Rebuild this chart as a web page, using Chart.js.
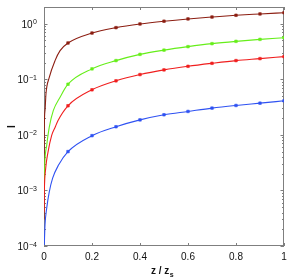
<!DOCTYPE html>
<html>
<head>
<meta charset="utf-8">
<title>I vs z / zs</title>
<script src="https://cdn.jsdelivr.net/npm/chart.js@4.4.1/dist/chart.umd.min.js"></script>
<style>
  html, body { margin: 0; padding: 0; background: #fff; }
  #wrap { width: 291px; height: 280px; }
</style>
</head>
<body>
<div id="wrap"><canvas id="chart" width="291" height="280"></canvas></div>
<script>
var markZ = [0.1, 0.2, 0.3, 0.4, 0.5, 0.6, 0.7, 0.8, 0.9, 1.0];
var brownMarks = [0.45, 0.68, 0.85, 0.99, 1.11, 1.22, 1.32, 1.42, 1.50, 1.58];
var greenMarks = [0.0815, 0.154, 0.217, 0.281, 0.335, 0.387, 0.438, 0.482, 0.523, 0.561];
var redMarks   = [0.0334, 0.0647, 0.0938, 0.1217, 0.1477, 0.1714, 0.194, 0.217, 0.2356, 0.256];
var blueMarks  = [0.0050, 0.00968, 0.0140, 0.0186, 0.0230, 0.0264, 0.0303, 0.0338, 0.0372, 0.0410];

// where each curve rises off the left axis, before the first marker
var brownStartZ = [0.0002, 0.0012, 0.0042, 0.0083, 0.022, 0.046, 0.067];
var brownStartI = [0.0003, 0.012, 0.0275, 0.0555, 0.108, 0.217, 0.328];
var greenStartZ = [0.0003, 0.0029, 0.0113, 0.022, 0.039, 0.067];
var greenStartI = [0.00094, 0.00284, 0.00648, 0.0138, 0.0275, 0.0477];
var redStartZ   = [0.0001, 0.00125, 0.0071, 0.0167, 0.032, 0.046, 0.058];
var redStartI   = [0.00041, 0.00093, 0.0025, 0.0049, 0.0098, 0.0136, 0.018];
var blueStartZ  = [0.00125, 0.0042, 0.0113, 0.022, 0.036, 0.06];
var blueStartI  = [0.000104, 0.000238, 0.00048, 0.00094, 0.00166, 0.00284];

var xTicks = [0, 0.2, 0.4, 0.6, 0.8, 1];
var xTickLabels = ['0', '0.2', '0.4', '0.6', '0.8', '1'];
var yDecades = [-4, -3, -2, -1, 0];
var yMin = 1e-4, yMax = 2;

var FONT = '"Liberation Sans", Arial, Helvetica, sans-serif';

function series(startZ, startI, marks, color) {
  var pts = [], rad = [];
  for (var i = 0; i < startZ.length; i++) {
    pts.push({x: startZ[i], y: startI[i]});
    rad.push(0);
  }
  for (var j = 0; j < markZ.length; j++) {
    pts.push({x: markZ[j], y: marks[j]});
    rad.push(1.8);
  }
  return {
    data: pts,
    showLine: true,
    borderColor: color,
    backgroundColor: color,
    borderWidth: 1.1,
    pointRadius: rad,
    pointStyle: 'rect',
    pointBorderWidth: 0.6,
    cubicInterpolationMode: 'monotone'
  };
}

var axesPlugin = {
  id: 'matlabAxes',
  beforeDatasetsDraw: function (chart) {
    var ctx = chart.ctx, a = chart.chartArea;
    var xs = chart.scales.x, ys = chart.scales.y;
    ctx.save();
    ctx.strokeStyle = '#7f7f7f';
    ctx.lineWidth = 1;
    ctx.strokeRect(a.left + 0.5, a.top + 0.5, a.right - a.left - 1, a.bottom - a.top - 1);
    ctx.beginPath();
    // x ticks, inward on bottom and top
    xTicks.forEach(function (t) {
      var px = Math.round(xs.getPixelForValue(t)) + 0.5;
      ctx.moveTo(px, a.bottom); ctx.lineTo(px, a.bottom - 3);
      ctx.moveTo(px, a.top); ctx.lineTo(px, a.top + 3);
    });
    // y major and minor ticks, inward on left and right
    for (var d = -4; d <= 0; d++) {
      for (var m = 1; m <= 9; m++) {
        var v = m * Math.pow(10, d);
        if (v < yMin || v > yMax) continue;
        var py = Math.round(ys.getPixelForValue(v)) + 0.5;
        var len = (m === 1) ? 3.5 : 2;
        ctx.moveTo(a.left, py); ctx.lineTo(a.left + len, py);
        ctx.moveTo(a.right, py); ctx.lineTo(a.right - len, py);
      }
    }
    ctx.stroke();
    ctx.restore();
  },
  afterDraw: function (chart) {
    var ctx = chart.ctx, a = chart.chartArea;
    var xs = chart.scales.x, ys = chart.scales.y;
    ctx.save();
    ctx.fillStyle = '#111';
    // x tick labels
    ctx.font = '10px ' + FONT;
    ctx.textAlign = 'center';
    ctx.textBaseline = 'alphabetic';
    xTicks.forEach(function (t, i) {
      ctx.fillText(xTickLabels[i], xs.getPixelForValue(t), a.bottom + 14);
    });
    // y tick labels: 10 with superscript exponent
    yDecades.forEach(function (d) {
      var py = ys.getPixelForValue(Math.pow(10, d));
      var sup = d < 0 ? '\u2212' + (-d) : String(d);
      ctx.font = '7px ' + FONT;
      var sw = ctx.measureText(sup).width;
      var right = a.left - 7;
      ctx.textAlign = 'left';
      ctx.fillText(sup, right - sw, py + 0.5);
      ctx.font = '10px ' + FONT;
      ctx.textAlign = 'right';
      ctx.fillText('10', right - sw - 0.5, py + 4);
    });
    // x title: z / z with subscript s
    ctx.font = 'bold 10px ' + FONT;
    var main = 'z / z';
    var mw = ctx.measureText(main).width;
    ctx.font = 'bold 7px ' + FONT;
    var subw = ctx.measureText('s').width;
    var x0 = (a.left + a.right) / 2 - 2 - (mw + subw) / 2;
    ctx.textAlign = 'left';
    ctx.font = 'bold 10px ' + FONT;
    ctx.fillText(main, x0, a.bottom + 28);
    ctx.font = 'bold 7px ' + FONT;
    ctx.fillText('s', x0 + mw + 0.5, a.bottom + 31);
    // y title
    ctx.translate(12.5, (a.top + a.bottom) / 2);
    ctx.rotate(-Math.PI / 2);
    ctx.font = 'bold 10px ' + FONT;
    ctx.textAlign = 'center';
    ctx.textBaseline = 'middle';
    ctx.fillText('I', 0, 0);
    ctx.restore();
  }
};

new Chart(document.getElementById('chart'), {
  type: 'scatter',
  data: {
    datasets: [
      series(blueStartZ, blueStartI, blueMarks, '#2f52f2'),
      series(redStartZ, redStartI, redMarks, '#f01e1e'),
      series(greenStartZ, greenStartI, greenMarks, '#66ee1a'),
      series(brownStartZ, brownStartI, brownMarks, '#8c1e12')
    ]
  },
  options: {
    responsive: false,
    animation: false,
    devicePixelRatio: 1,
    layout: { padding: { left: 44, right: 7, top: 7, bottom: 34 } },
    plugins: { legend: { display: false }, tooltip: { enabled: false } },
    scales: {
      x: { type: 'linear', min: 0, max: 1, display: false },
      y: { type: 'logarithmic', min: yMin, max: yMax, display: false }
    }
  },
  plugins: [axesPlugin]
});
</script>
</body>
</html>
